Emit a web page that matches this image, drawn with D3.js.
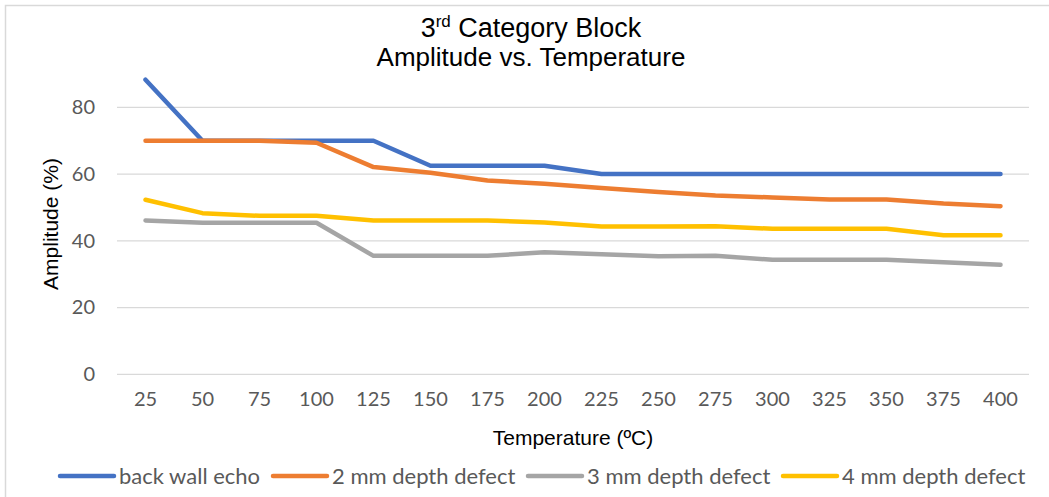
<!DOCTYPE html>
<html>
<head>
<meta charset="utf-8">
<script src="https://cdn.jsdelivr.net/npm/d3@7/dist/d3.min.js"></script>
<style>
  html, body { margin: 0; padding: 0; background: #fff; }
  svg { display: block; }
</style>
</head>
<body>
<svg id="chart" width="1049" height="497"></svg>
<script>
// Temperatures (°C) along the category axis
const temperatures = [25, 50, 75, 100, 125, 150, 175, 200, 225, 250, 275, 300, 325, 350, 375, 400];

// Amplitude (%) per series
const backWallEcho = [88.3, 70, 70, 70, 70, 62.5, 62.5, 62.5, 60, 60, 60, 60, 60, 60, 60, 60];
const depth2mm = [70, 70, 70, 69.4, 62.1, 60.4, 58.1, 57.1, 55.8, 54.6, 53.6, 53.0, 52.4, 52.4, 51.2, 50.4];
const depth3mm = [46.1, 45.4, 45.4, 45.4, 35.5, 35.5, 35.5, 36.6, 36.0, 35.4, 35.5, 34.3, 34.3, 34.3, 33.6, 32.8];
const depth4mm = [52.3, 48.3, 47.5, 47.5, 46.1, 46.1, 46.1, 45.5, 44.3, 44.3, 44.4, 43.6, 43.6, 43.6, 41.7, 41.7];

const seriesNames = ["back wall echo", "2 mm depth defect", "3 mm depth defect", "4 mm depth defect"];
const seriesColors = ["#4472C4", "#ED7D31", "#A5A5A5", "#FFC000"];
const yTicks = [0, 20, 40, 60, 80];

const series = [backWallEcho, depth2mm, depth3mm, depth4mm].map((values, i) => ({
  name: seriesNames[i], color: seriesColors[i], values
}));

const svg = d3.select("#chart");
const plot = { left: 117, right: 1029, top: 74, bottom: 374.3 };

// chart border
svg.append("rect")
  .attr("x", 5.5).attr("y", 5.5)
  .attr("width", 1060).attr("height", 510)
  .attr("fill", "#fff").attr("stroke", "#d9d9d9").attr("stroke-width", 1.5);

const x = d3.scaleBand().domain(temperatures).range([plot.left, plot.right]);
const y = d3.scaleLinear().domain([0, 90]).range([plot.bottom, plot.top]);

// horizontal gridlines
svg.append("g")
  .selectAll("line")
  .data(yTicks)
  .join("line")
  .attr("x1", plot.left).attr("x2", plot.right)
  .attr("y1", d => y(d)).attr("y2", d => y(d))
  .attr("stroke", "#d9d9d9").attr("stroke-width", 1.3);

// y axis tick labels
const yAxis = d3.axisLeft(y).tickValues(yTicks).tickSize(0).tickPadding(22);
svg.append("g")
  .attr("transform", `translate(${plot.left},0)`)
  .call(yAxis)
  .call(g => g.select(".domain").remove())
  .call(g => g.selectAll("text")
    .attr("font-family", "Lato, 'Open Sans', sans-serif")
    .attr("font-size", 20)
    .attr("fill", "#595959"));

// x axis tick labels
const xAxis = d3.axisBottom(x).tickSize(0).tickPadding(18);
svg.append("g")
  .attr("transform", `translate(0,${plot.bottom})`)
  .call(xAxis)
  .call(g => g.select(".domain").remove())
  .call(g => g.selectAll("text")
    .attr("font-family", "Lato, 'Open Sans', sans-serif")
    .attr("font-size", 20)
    .attr("fill", "#595959"));

// series lines
const line = d3.line()
  .x((d, i) => x(temperatures[i]) + x.bandwidth() / 2)
  .y(d => y(d));

svg.append("g")
  .selectAll("path")
  .data(series)
  .join("path")
  .attr("d", d => line(d.values))
  .attr("fill", "none")
  .attr("stroke", d => d.color)
  .attr("stroke-width", 4.5)
  .attr("stroke-linecap", "round")
  .attr("stroke-linejoin", "round");

// title (two lines)
const title = svg.append("text")
  .attr("x", 531).attr("y", 37)
  .attr("text-anchor", "middle")
  .attr("font-family", "'Liberation Sans', Arial, sans-serif")
  .attr("font-size", 27)
  .attr("fill", "#000");
title.append("tspan").text("3");
title.append("tspan").text("rd").attr("font-size", 17).attr("dy", -10);
title.append("tspan").text(" Category Block").attr("dy", 10);

svg.append("text")
  .attr("x", 531).attr("y", 66)
  .attr("text-anchor", "middle")
  .attr("font-family", "'Liberation Sans', Arial, sans-serif")
  .attr("font-size", 26)
  .attr("fill", "#000")
  .text("Amplitude vs. Temperature");

// axis titles
svg.append("text")
  .attr("x", 573).attr("y", 445)
  .attr("text-anchor", "middle")
  .attr("font-family", "'Liberation Sans', Arial, sans-serif")
  .attr("font-size", 21)
  .attr("fill", "#000")
  .text("Temperature (ºC)");

svg.append("text")
  .attr("transform", "translate(58,224) rotate(-90)")
  .attr("text-anchor", "middle")
  .attr("font-family", "'Liberation Sans', Arial, sans-serif")
  .attr("font-size", 21)
  .attr("fill", "#000")
  .text("Amplitude (%)");

// legend
const legendX = [60, 273, 528, 783];
const legendY = 476;
const legend = svg.append("g")
  .selectAll("g")
  .data(series)
  .join("g")
  .attr("transform", (d, i) => `translate(${legendX[i]},${legendY})`);
legend.append("line")
  .attr("x1", 0).attr("x2", 54)
  .attr("stroke", d => d.color)
  .attr("stroke-width", 4.5)
  .attr("stroke-linecap", "round");
legend.append("text")
  .attr("x", 59).attr("dy", "0.35em")
  .attr("font-family", "Lato, 'Open Sans', sans-serif")
  .attr("font-size", 22)
  .attr("fill", "#595959")
  .text(d => d.name);
</script>
</body>
</html>
